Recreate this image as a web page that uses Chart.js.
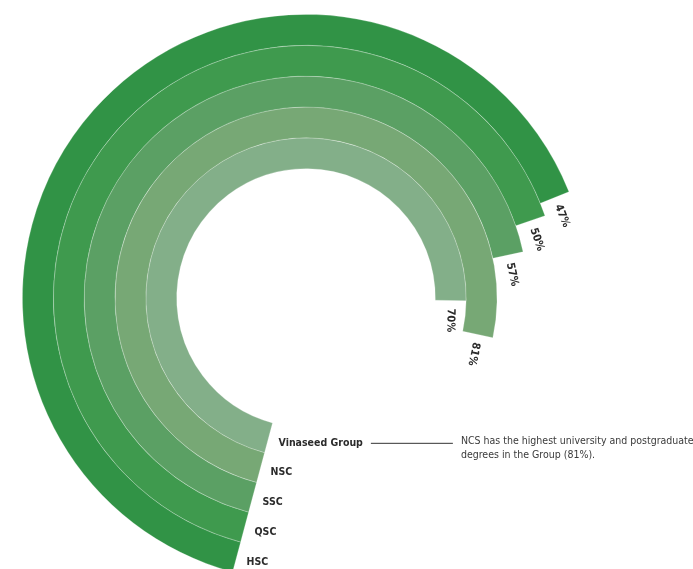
<!DOCTYPE html>
<html lang="en">
<head>
<meta charset="UTF-8">
<title>University and postgraduate degrees</title>
<script src="https://cdn.jsdelivr.net/npm/chart.js"></script>
<style>
  html, body { margin: 0; padding: 0; overflow: hidden; background: #fff; }
  canvas { display: block; }
</style>
</head>
<body>
<canvas id="ringChart" width="693" height="600"></canvas>
<script>
  // outer ring first
  const companies = ["HSC", "QSC", "SSC", "NSC", "Vinaseed Group"];
  const degreeShare = [47, 50, 57, 81, 70];
  const valueLabels = ["47%", "50%", "57%", "81%", "70%"];
  const noteLines = ["NCS has the highest university and postgraduate", "degrees in the Group (81%)."];

  const ringColors = ["#319346", "#3f9a4e", "#5ba064", "#77a875", "#83af89"];
  const FONT = '"Liberation Sans Narrow", "DejaVu Sans Condensed", "Roboto", sans-serif';

  const ARC_START = 195;  // degrees clockwise from top
  const ARC_BASE = 186;   // arc drawn before the 0% mark
  const FULL = 360;

  const ringLabels = {
    id: "ringLabels",
    afterDatasetsDraw(chart) {
      const ctx = chart.ctx;
      ctx.save();
      ctx.fillStyle = "#2b2b2b";
      chart.data.datasets.forEach((ds, i) => {
        const arc = chart.getDatasetMeta(i).data[0];
        const { x, y, startAngle, endAngle, innerRadius, outerRadius } =
          arc.getProps(["x", "y", "startAngle", "endAngle", "innerRadius", "outerRadius"]);
        const r = (innerRadius + outerRadius) / 2;

        // percentage just past the end of the ring, along its tangent
        ctx.save();
        ctx.translate(x + Math.cos(endAngle) * r, y + Math.sin(endAngle) * r);
        ctx.rotate(endAngle + Math.PI / 2);
        ctx.font = "bold 11px " + FONT;
        ctx.textAlign = "left";
        ctx.textBaseline = "middle";
        ctx.fillText(valueLabels[i], 8, 0);
        ctx.restore();

        // company name beside the start of the ring
        const sx = x + Math.cos(startAngle) * r + 10;
        const sy = y + Math.sin(startAngle) * r + 5;
        ctx.font = "bold 10.5px " + FONT;
        ctx.textAlign = "left";
        ctx.textBaseline = "middle";
        ctx.fillText(companies[i], sx, sy);

        if (i === companies.length - 1) {
          const lx = sx + ctx.measureText(companies[i]).width + 8;
          ctx.strokeStyle = "#333";
          ctx.lineWidth = 1;
          ctx.beginPath();
          ctx.moveTo(lx, sy + 0.5);
          ctx.lineTo(lx + 82, sy + 0.5);
          ctx.stroke();
          ctx.font = "10.5px " + FONT;
          ctx.fillStyle = "#3a3a3a";
          noteLines.forEach((t, k) => ctx.fillText(t, lx + 90, sy - 2 + k * 14));
          ctx.fillStyle = "#2b2b2b";
        }
      });
      ctx.restore();
    }
  };

  new Chart(document.getElementById("ringChart"), {
    type: "doughnut",
    data: {
      labels: ["share", "rest"],
      datasets: companies.map((name, i) => ({
        label: name,
        data: [ARC_BASE + degreeShare[i], FULL - ARC_BASE - degreeShare[i]],
        backgroundColor: [ringColors[i], "rgba(0,0,0,0)"],
        borderColor: ["rgba(255,255,255,0.3)", "rgba(0,0,0,0)"],
        borderWidth: [0.8, 0]
      }))
    },
    options: {
      responsive: false,
      animation: false,
      rotation: ARC_START,
      circumference: 360,
      cutout: "45.6%",
      layout: { padding: { left: 22, top: 14, right: 103, bottom: 18 } },
      plugins: {
        legend: { display: false },
        tooltip: { enabled: false }
      }
    },
    plugins: [ringLabels]
  });
</script>
</body>
</html>
